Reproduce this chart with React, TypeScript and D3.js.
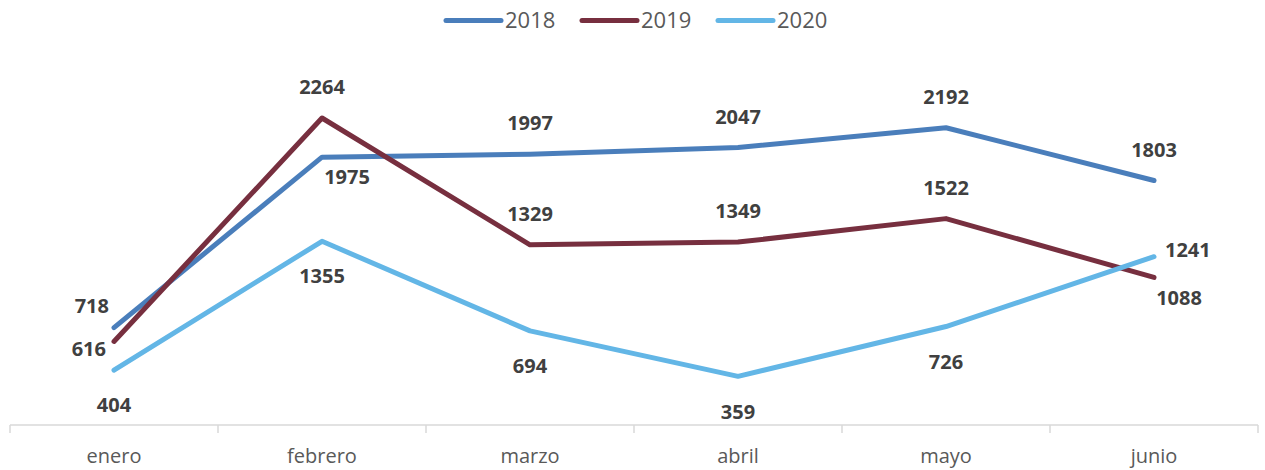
import React, { useEffect, useRef } from 'react';
import * as d3 from 'd3';

const months = ['enero', 'febrero', 'marzo', 'abril', 'mayo', 'junio'];
const seriesNames = ['2018', '2019', '2020'];
const values2018 = [718, 1975, 1997, 2047, 2192, 1803];
const values2019 = [616, 2264, 1329, 1349, 1522, 1088];
const values2020 = [404, 1355, 694, 359, 726, 1241];
const seriesColors = ['#4A7EBB', '#772F3F', '#63B6E6'];
// where Excel put each data label
const labels2018 = ['aboveLeft', 'belowRight', 'above', 'above', 'above', 'above'];
const labels2019 = ['left', 'above', 'above', 'above', 'above', 'belowRight'];
const labels2020 = ['below', 'below', 'below', 'below', 'below', 'right'];

const FONT = '"Open Sans", "Noto Sans", sans-serif';

const App: React.FC = () => {
  const svgRef = useRef<SVGSVGElement>(null);

  useEffect(() => {
    if (!svgRef.current) return;
    const width = 1265;
    const height = 470;

    const svg = d3.select(svgRef.current);
    svg.selectAll('*').remove();
    svg.attr('width', width).attr('height', height);

    const series = [
      { name: seriesNames[0], values: values2018, color: seriesColors[0], pos: labels2018 },
      { name: seriesNames[1], values: values2019, color: seriesColors[1], pos: labels2019 },
      { name: seriesNames[2], values: values2020, color: seriesColors[2], pos: labels2020 },
    ];

    const x = d3.scaleBand<string>().domain(months).range([10, 1258]);
    const y = d3.scaleLinear().domain([0, 2500]).range([425, 86]);
    const cx = (m: string) => (x(m) || 0) + x.bandwidth() / 2;

    // category axis
    const axisY = y(0);
    const axisG = svg.append('g');
    axisG.append('line')
      .attr('x1', 10).attr('x2', 1258)
      .attr('y1', axisY).attr('y2', axisY)
      .attr('stroke', '#d9d9d9').attr('stroke-width', 1.5);
    const bounds = months.map(m => x(m) || 0).concat([1258]);
    axisG.selectAll('line.tick')
      .data(bounds)
      .join('line')
      .attr('class', 'tick')
      .attr('x1', d => d).attr('x2', d => d)
      .attr('y1', axisY).attr('y2', axisY + 8)
      .attr('stroke', '#d9d9d9').attr('stroke-width', 1.5);
    axisG.selectAll('text')
      .data(months)
      .join('text')
      .attr('x', d => cx(d))
      .attr('y', 463)
      .attr('text-anchor', 'middle')
      .style('font-family', FONT)
      .style('font-size', '20px')
      .style('fill', '#595959')
      .text(d => d);

    // lines
    const line = d3.line<number>()
      .x((_, i) => cx(months[i]))
      .y(d => y(d));

    series.forEach(s => {
      svg.append('path')
        .datum(s.values)
        .attr('d', line)
        .attr('fill', 'none')
        .attr('stroke', s.color)
        .attr('stroke-width', 5)
        .attr('stroke-linecap', 'round')
        .attr('stroke-linejoin', 'round');
    });

    // data labels
    const offsets: Record<string, { dx: number; dy: number; anchor: string }> = {
      above: { dx: 0, dy: -31, anchor: 'middle' },
      below: { dx: 0, dy: 35, anchor: 'middle' },
      belowRight: { dx: 25, dy: 20, anchor: 'middle' },
      aboveLeft: { dx: -5, dy: -22, anchor: 'end' },
      left: { dx: -8, dy: 7, anchor: 'end' },
      right: { dx: 11, dy: -7, anchor: 'start' },
    };

    series.forEach(s => {
      svg.append('g')
        .selectAll('text')
        .data(s.values)
        .join('text')
        .attr('x', (d, i) => cx(months[i]) + offsets[s.pos[i]].dx)
        .attr('y', (d, i) => y(d) + offsets[s.pos[i]].dy)
        .attr('dy', '0.36em')
        .attr('text-anchor', (d, i) => offsets[s.pos[i]].anchor)
        .style('font-family', FONT)
        .style('font-size', '20px')
        .style('font-weight', 'bold')
        .style('fill', '#404040')
        .text(d => String(d));
    });

    // legend
    const legendX = [446, 582, 718];
    const legend = svg.append('g');
    series.forEach((s, i) => {
      legend.append('line')
        .attr('x1', legendX[i]).attr('x2', legendX[i] + 55)
        .attr('y1', 20.5).attr('y2', 20.5)
        .attr('stroke', s.color)
        .attr('stroke-width', 5)
        .attr('stroke-linecap', 'round');
      legend.append('text')
        .attr('x', legendX[i] + 59)
        .attr('y', 28)
        .style('font-family', FONT)
        .style('font-size', '22px')
        .style('fill', '#595959')
        .text(s.name);
    });
  }, []);

  return (
    <svg ref={svgRef} style={{ position: 'absolute', left: 0, top: 0, background: '#fff' }} />
  );
};

export default App;
